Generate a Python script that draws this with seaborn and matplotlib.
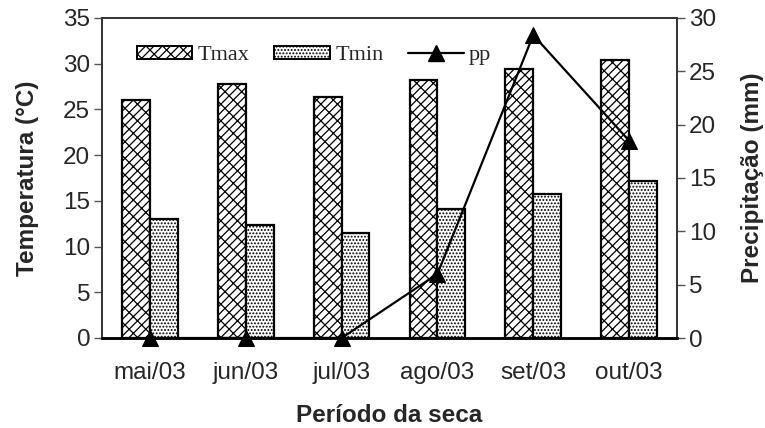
import matplotlib
matplotlib.use("Agg")
import matplotlib.pyplot as plt
import matplotlib.patches as mpatches
from matplotlib.lines import Line2D
import seaborn as sns
import pandas as pd
import numpy as np

months = ["mai/03", "jun/03", "jul/03", "ago/03", "set/03", "out/03"]
tmax = [26.0, 27.8, 26.4, 28.2, 29.4, 30.4]
tmin = [13.0, 12.4, 11.5, 14.1, 15.7, 17.2]
pp = [0.0, 0.0, 0.0, 6.0, 28.4, 18.5]

sns.set_theme(style="white")
plt.rcParams["font.family"] = ["Liberation Sans", "DejaVu Sans"]
plt.rcParams["hatch.linewidth"] = 0.9
plt.rcParams["hatch.color"] = "black"

df = pd.DataFrame({
    "mes": months * 2,
    "valor": tmax + tmin,
    "serie": ["Tmax"] * len(months) + ["Tmin"] * len(months),
})

fig = plt.figure(figsize=(7.65, 4.28), dpi=100)
ax = fig.add_axes([102 / 765, 1 - 338 / 428, (677 - 102) / 765, (338 - 18) / 428])

TMAX_HATCH = "xx//"
TMIN_HATCH = "....."

sns.barplot(data=df, x="mes", y="valor", hue="serie", order=months,
            hue_order=["Tmax", "Tmin"], palette=["white", "white"],
            edgecolor="black", linewidth=1.6, width=0.58, ax=ax,
            legend=False, errorbar=None)

for cont, h in zip(ax.containers, [TMAX_HATCH, TMIN_HATCH]):
    for bar in cont:
        bar.set_hatch(h)
        bar.set_edgecolor("black")

ax.set_xlim(-0.5, len(months) - 0.5)
ax.set_ylim(0, 35)
ax.set_yticks(range(0, 36, 5))
ax.set_xlabel("Período da seca", fontsize=17.5, fontweight="bold", labelpad=15)
ax.set_ylabel("Temperatura (°C)", fontsize=17.5, fontweight="bold", labelpad=17)

ax.tick_params(axis="x", which="major", length=0, labelsize=17.5, pad=17)
ax.set_xticks(np.arange(len(months) + 1) - 0.5, minor=True)
ax.tick_params(axis="x", which="minor", direction="inout", length=12,
               color="#777777", width=1.2)
ax.tick_params(axis="y", direction="out", length=5.5, color="#555555",
               width=1.0, labelsize=17.5, pad=3, left=True)

ax2 = ax.twinx()
sns.lineplot(x=np.arange(len(months)), y=pp, ax=ax2, color="black",
             linewidth=1.6, marker="^", markersize=11, markeredgecolor="black",
             markerfacecolor="black", clip_on=False, zorder=5)
ax2.set_ylim(0, 30)
ax2.set_yticks(range(0, 31, 5))
ax2.set_ylabel("Precipitação (mm)", fontsize=17.5, fontweight="bold", labelpad=18)
ax2.tick_params(axis="y", direction="out", length=5.5, color="#555555",
                width=1.0, labelsize=17.5, pad=3, right=True)
ax2.grid(False)
ax.grid(False)

for a in (ax, ax2):
    for s in a.spines.values():
        s.set_color("#333333")
        s.set_linewidth(1.2)
    a.spines["bottom"].set_color("black")
    a.spines["bottom"].set_linewidth(1.8)

handles = [
    mpatches.Patch(facecolor="white", edgecolor="black", hatch=TMAX_HATCH, linewidth=1.4, label="Tmax"),
    mpatches.Patch(facecolor="white", edgecolor="black", hatch=TMIN_HATCH, linewidth=1.4, label="Tmin"),
    Line2D([0], [0], color="black", linewidth=1.6, marker="^", markersize=11, label="pp"),
]
leg = ax2.legend(handles=handles, loc="upper left", bbox_to_anchor=(0.045, 0.94),
                 ncol=3, frameon=False, prop={"family": "Liberation Serif", "size": 16},
                 handlelength=2.5, handleheight=0.5, handletextpad=0.25,
                 columnspacing=1.1, borderaxespad=0)

fig.savefig("out.png", dpi=100)
